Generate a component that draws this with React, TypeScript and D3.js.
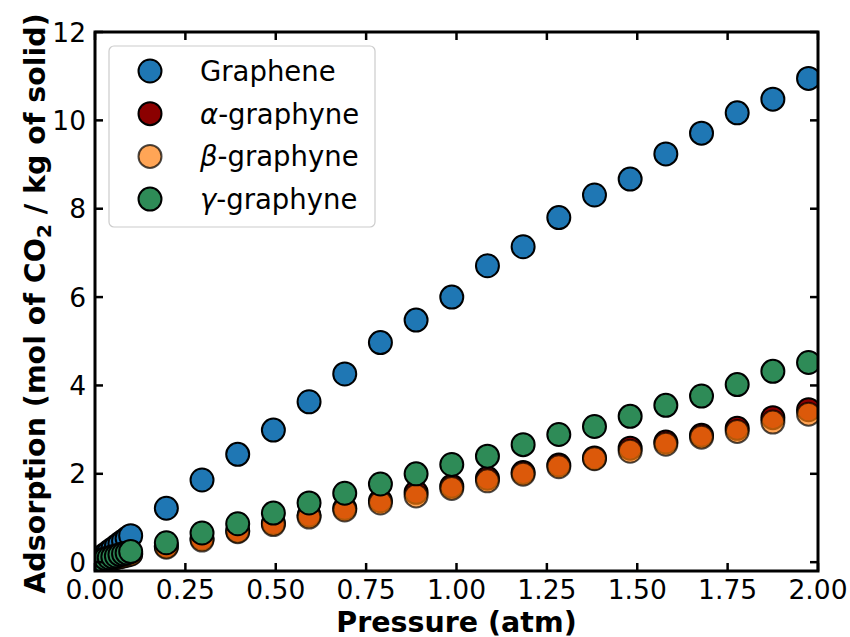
import React from "react";
import * as d3 from "d3";

const pressureBar = [0.01,0.02,0.03,0.04,0.05,0.06,0.07,0.08,0.09,0.1,0.2,0.3,0.4,0.5,0.6,0.7,0.8,0.9,1.0,1.1,1.2,1.3,1.4,1.5,1.6,1.7,1.8,1.9,2.0];
const BAR_TO_ATM = 0.986923;
const graphene = [0.06,0.12,0.18,0.24,0.30,0.36,0.42,0.48,0.54,0.60,1.22,1.86,2.44,2.99,3.63,4.26,4.97,5.48,6.00,6.71,7.14,7.80,8.31,8.67,9.24,9.71,10.17,10.48,10.95];
const alphaG = [0.02,0.04,0.06,0.08,0.09,0.11,0.13,0.15,0.17,0.19,0.36,0.53,0.71,0.88,1.06,1.22,1.39,1.58,1.72,1.90,2.03,2.20,2.36,2.58,2.72,2.87,3.03,3.27,3.45];
const betaG = [0.02,0.04,0.05,0.07,0.09,0.11,0.12,0.14,0.16,0.18,0.34,0.50,0.69,0.85,1.02,1.18,1.34,1.50,1.67,1.84,1.99,2.16,2.34,2.51,2.67,2.83,2.96,3.17,3.35];
const gammaG = [0.03,0.05,0.08,0.10,0.12,0.14,0.17,0.19,0.21,0.24,0.44,0.66,0.87,1.11,1.34,1.56,1.77,2.00,2.21,2.40,2.66,2.89,3.07,3.30,3.55,3.76,4.02,4.32,4.52];

const seriesNames = ["Graphene", "α", "β", "γ"];
const xTicks = [0, 0.25, 0.5, 0.75, 1.0, 1.25, 1.5, 1.75, 2.0];
const yTicks = [0, 2, 4, 6, 8, 10, 12];

const W = 850, H = 637;
const L = 95, R = 818, T = 32, B = 571;

export default function App() {
  const x = d3.scaleLinear().domain([0, 2]).range([L, R]);
  const y = d3.scaleLinear().domain([-0.2, 12]).range([B, T]);
  const series = [
    { name: seriesNames[0], vals: graphene, fill: "#1f77b4", fo: 1, so: 1 },
    { name: seriesNames[1], vals: alphaG, fill: "#8b0000", fo: 1, so: 1 },
    { name: seriesNames[2], vals: betaG, fill: "#ff7f0e", fo: 0.7, so: 0.7 },
    { name: seriesNames[3], vals: gammaG, fill: "#2e8b57", fo: 1, so: 1 },
  ];
  const r = 11.5;
  const font = "DejaVu Sans, sans-serif";
  const tl = 8;
  return (
    <svg width={W} height={H} style={{ position: "absolute", left: 0, top: 0 }} fontFamily={font}>
      <rect width={W} height={H} fill="white" />
      <defs>
        <clipPath id="clip"><rect x={L} y={T} width={R - L} height={B - T} /></clipPath>
      </defs>
      <g clipPath="url(#clip)">
        {series.map((s, si) => (
          <g key={si}>
            {s.vals.map((v, i) => (
              <circle key={i} cx={x(pressureBar[i] * BAR_TO_ATM)} cy={y(v)} r={r}
                fill={s.fill} fillOpacity={s.fo} stroke="black" strokeOpacity={s.so} strokeWidth={2} />
            ))}
          </g>
        ))}
      </g>
      {xTicks.map((t, i) => (
        <g key={"x" + i}>
          <line x1={x(t)} x2={x(t)} y1={B} y2={B - tl} stroke="black" strokeWidth={2.5} />
          <line x1={x(t)} x2={x(t)} y1={T} y2={T + tl} stroke="black" strokeWidth={2.5} />
          <text x={x(t)} y={599} textAnchor="middle" fontSize={26.5}>{t.toFixed(2)}</text>
        </g>
      ))}
      {yTicks.map((t, i) => (
        <g key={"y" + i}>
          <line x1={L} x2={L + tl} y1={y(t)} y2={y(t)} stroke="black" strokeWidth={2.5} />
          <line x1={R} x2={R - tl} y1={y(t)} y2={y(t)} stroke="black" strokeWidth={2.5} />
          <text x={86} y={y(t)} dy="0.36em" textAnchor="end" fontSize={26.5}>{t}</text>
        </g>
      ))}
      <rect x={L} y={T} width={R - L} height={B - T} fill="none" stroke="black" strokeWidth={3} />
      <rect x={109} y={46} width={266} height={181} rx={5} fill="white" fillOpacity={0.8} stroke="#cccccc" strokeWidth={1.2} />
      {series.map((s, i) => {
        const cy = 71 + i * 42.7;
        return (
          <g key={"l" + i}>
            <circle cx={150} cy={cy} r={r} fill={s.fill} fillOpacity={s.fo} stroke="black" strokeOpacity={s.so} strokeWidth={2} />
            <text x={200} y={cy} dy="0.36em" fontSize={27.5}>
              {i === 0 ? s.name : (<><tspan fontStyle="italic">{s.name}</tspan>-graphyne</>)}
            </text>
          </g>
        );
      })}
      <text x={(L + R) / 2} y={632} textAnchor="middle" fontSize={28.5} fontWeight="bold">Pressure (atm)</text>
      <text transform={`translate(45,${(T + B) / 2 + 2}) rotate(-90)`} textAnchor="middle" fontSize={28.5} fontWeight="bold">
        Adsorption (mol of CO<tspan fontSize={20} dy={6}>2</tspan><tspan dy={-6}> / kg of solid)</tspan>
      </text>
    </svg>
  );
}
